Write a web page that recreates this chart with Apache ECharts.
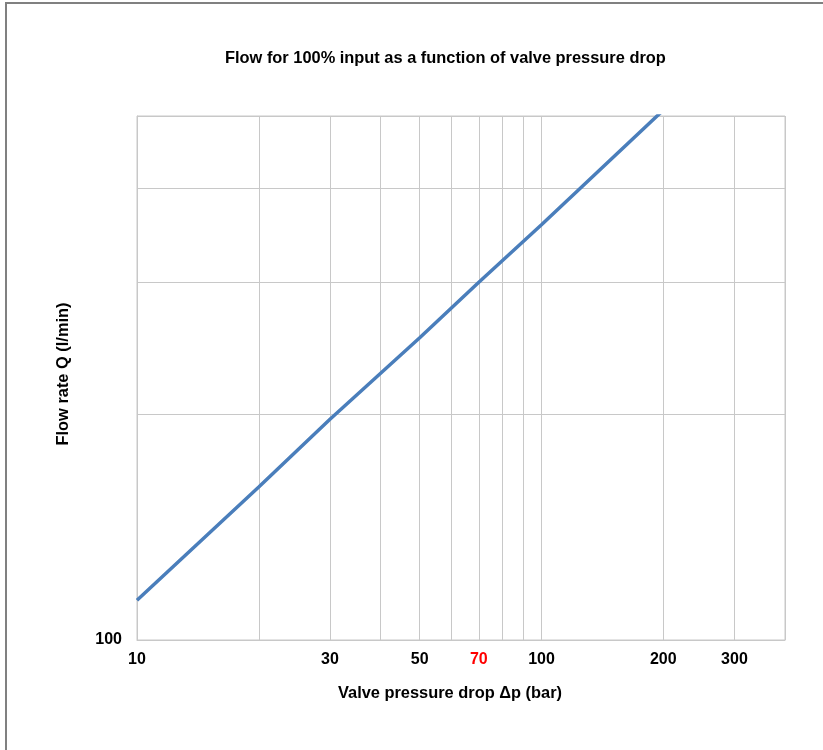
<!DOCTYPE html>
<html>
<head>
<meta charset="utf-8">
<script src="https://cdn.jsdelivr.net/npm/echarts@6/dist/echarts.min.js"></script>
<style>
    html, body { margin: 0; padding: 0; background: #fff; }
    #frame { position: absolute; left: 5px; top: 2px; width: 830px; height: 760px; border-left: 2px solid #808080; border-top: 2px solid #808080; }
    #chart { position: absolute; left: 0; top: 0; width: 823px; height: 750px; }
</style>
</head>
<body>
<div id="frame"></div>
<div id="chart"></div>
<script>
// values (log-log)
const pressureDrop = [10, 20, 30, 50, 70, 100, 200];
const flowRate = [113, 160, 197, 253, 300, 358, 509];
const xGridValues = [10, 20, 30, 40, 50, 60, 70, 80, 90, 100, 200, 300, 400];
const xLabelValues = [10, 30, 50, 70, 100, 200, 300];
const yGridValues = [100, 200, 300, 400, 500];
const yLabelValues = [100];

document.addEventListener('DOMContentLoaded', () => {
    const chart = echarts.init(document.getElementById('chart'));
    const gridColor = '#c8c8c8';
    const labelFont = { fontFamily: 'Liberation Sans, Arial', fontWeight: 'bold', fontSize: 16, color: '#000' };
    const nameFont = { fontFamily: 'Liberation Sans, Arial', fontWeight: 'bold', fontSize: 16.4, color: '#000' };

    const option = {
        animation: false,
        title: {
            text: 'Flow for 100% input as a function of valve pressure drop',
            left: 220,
            top: 45,
            textStyle: nameFont
        },
        grid: { left: 137, right: 38, top: 116, bottom: 110, show: true, borderColor: gridColor, borderWidth: 1 },
        xAxis: {
            type: 'log',
            logBase: 10,
            min: 10,
            max: 400,
            name: 'Valve pressure drop \u0394p (bar)',
            nameLocation: 'middle',
            nameGap: 45,
            nameTextStyle: Object.assign({}, nameFont, { padding: [0, 22, 0, 0] }),
            axisLine: { show: true, lineStyle: { color: gridColor } },
            axisTick: { show: false, customValues: xGridValues },
            axisLabel: Object.assign({}, labelFont, {
                customValues: xLabelValues,
                margin: 12,
                formatter: v => (v === 70 ? '{r|70}' : String(v)),
                rich: { r: Object.assign({}, labelFont, { color: '#ff0000' }) }
            }),
            splitLine: { show: true, lineStyle: { color: gridColor, width: 1 } }
        },
        yAxis: {
            type: 'log',
            logBase: 10,
            min: 100,
            max: 500,
            name: 'Flow rate Q (l/min)',
            nameLocation: 'middle',
            nameGap: 66,
            nameTextStyle: Object.assign({}, nameFont, { padding: [0, 0, 0, 8] }),
            axisLine: { show: true, lineStyle: { color: gridColor } },
            axisTick: { show: false, customValues: yGridValues },
            axisLabel: Object.assign({}, labelFont, { customValues: yLabelValues, margin: 15 }),
            splitLine: { show: true, lineStyle: { color: gridColor, width: 1 } }
        },
        series: [{
            type: 'line',
            data: pressureDrop.map((p, i) => [p, flowRate[i]]),
            symbol: 'none',
            clip: true,
            lineStyle: { color: '#4a7ebb', width: 3.5 }
        }]
    };
    chart.setOption(option);
});
</script>
</body>
</html>
